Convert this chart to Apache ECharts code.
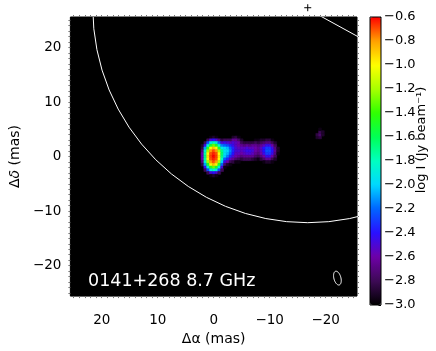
<!DOCTYPE html>
<html>
<head>
<meta charset="utf-8">
<script src="https://cdn.jsdelivr.net/npm/echarts@6/dist/echarts.min.js"></script>
<style>
  html, body { margin: 0; padding: 0; background: #fff; }
  #chart { width: 436px; height: 351px; }
</style>
</head>
<body>
<div id="chart"></div>
<script>
const FONT = 'DejaVu Sans'

// map pixels: RA offset of each column, Dec offset of each row (mas)
const raCols = [2.0, 1.5, 1.0, 0.5, 0.0, -0.5, -1.0, -1.5, -2.0, -2.5, -3.0, -3.5, -4.0, -4.5,
  -5.0, -5.5, -6.0, -6.5, -7.0, -7.5, -8.0, -8.5, -9.0, -9.5, -10.0, -10.5, -11.0, -11.5]
const decRows = [3.5, 3.0, 2.5, 2.0, 1.5, 1.0, 0.5, 0.0, -0.5, -1.0, -1.5, -2.0, -2.5, -3.0, -3.5]

// log I (Jy/beam), one row per dec, columns follow raCols; -3 (or missing) = below lowest level
const logI = [
  [-3, -3, -3, -2.95, -2.9, -2.95, -3, -3, -3, -3, -3, -2.9, -2.85, -2.95, -3, -3, -3, -3, -3, -3, -3, -3, -3, -3, -3, -3, -3, -3],
  [-3, -3, -2.8, -2.5, -2.4, -2.5, -2.7, -2.85, -2.8, -2.8, -2.8, -2.65, -2.65, -2.75, -2.9, -3, -3, -3, -3, -2.95, -2.95, -2.9, -2.9, -2.85, -2.85, -2.95, -3, -3],
  [-3, -2.8, -2.26, -1.92, -1.78, -1.92, -2.2, -2.5, -2.45, -2.5, -2.55, -2.5, -2.55, -2.6, -2.8, -2.85, -2.85, -2.85, -2.85, -2.8, -2.85, -2.8, -2.75, -2.7, -2.7, -2.8, -2.9, -3],
  [-2.9, -2.45, -1.9, -1.48, -1.29, -1.48, -1.85, -2.15, -2.2, -2.25, -2.35, -2.45, -2.55, -2.6, -2.65, -2.7, -2.65, -2.7, -2.65, -2.65, -2.7, -2.65, -2.55, -2.45, -2.45, -2.6, -2.8, -3],
  [-2.85, -2.1, -1.5, -0.99, -0.87, -0.99, -1.5, -1.9, -2.0, -2.05, -2.2, -2.35, -2.5, -2.55, -2.55, -2.55, -2.5, -2.55, -2.55, -2.6, -2.65, -2.55, -2.4, -2.3, -2.3, -2.45, -2.7, -2.9],
  [-2.7, -1.85, -1.2, -0.8, -0.7, -0.8, -1.2, -1.7, -1.95, -2.0, -2.15, -2.35, -2.5, -2.5, -2.55, -2.5, -2.45, -2.45, -2.5, -2.6, -2.65, -2.55, -2.4, -2.25, -2.25, -2.4, -2.65, -2.9],
  [-2.6, -1.75, -1.0, -0.7, -0.64, -0.7, -1.0, -1.65, -1.95, -2.05, -2.2, -2.4, -2.55, -2.55, -2.6, -2.55, -2.5, -2.5, -2.55, -2.65, -2.7, -2.6, -2.45, -2.3, -2.3, -2.45, -2.7, -2.95],
  [-2.55, -1.7, -0.95, -0.68, -0.6, -0.68, -0.95, -1.7, -2.0, -2.15, -2.35, -2.5, -2.6, -2.65, -2.7, -2.65, -2.65, -2.65, -2.65, -2.75, -2.8, -2.7, -2.6, -2.45, -2.45, -2.6, -2.8, -3],
  [-2.6, -1.75, -1.0, -0.7, -0.64, -0.7, -1.0, -1.8, -2.2, -2.35, -2.55, -2.65, -2.75, -2.8, -2.85, -2.8, -2.8, -2.8, -2.85, -2.9, -2.95, -2.85, -2.75, -2.65, -2.65, -2.8, -2.9, -3],
  [-2.7, -1.85, -1.2, -0.8, -0.7, -0.8, -1.2, -2.0, -2.45, -2.6, -2.8, -2.85, -2.95, -2.95, -3, -3, -3, -3, -3, -3, -3, -3, -2.95, -2.9, -2.9, -2.95, -3, -3],
  [-2.85, -2.1, -1.5, -0.99, -0.87, -0.99, -1.5, -2.2, -2.75, -2.9, -2.95],
  [-3, -2.45, -1.9, -1.48, -1.29, -1.48, -1.9, -2.5, -2.95],
  [-3, -2.8, -2.26, -1.92, -1.78, -1.92, -2.26, -2.8],
  [-3, -3, -2.8, -2.5, -2.4, -2.5, -2.8],
  [-3, -3, -3, -2.95, -2.9, -2.95]
]

// faint feature to the west
const spotRa = [-18.5, -18.5, -19.0, -19.0, -19.0, -19.0, -19.5, -19.5]
const spotDec = [3.5, 4.0, 3.5, 4.0, 4.5, 5.0, 4.0, 4.5]
const spotLogI = [-2.9, -2.85, -2.85, -2.75, -2.8, -2.95, -2.9, -2.9]

const tickVals = [-20, -10, 0, 10, 20]
const cbTicks = [-3.0, -2.8, -2.6, -2.4, -2.2, -2.0, -1.8, -1.6, -1.4, -1.2, -1.0, -0.8, -0.6]
const levelColors = ['#000000', '#3d0a55', '#6e00a8', '#2a10ff', '#0064ff', '#00d8ff', '#00ffc0',
  '#00ff55', '#30ff00', '#a8ff00', '#ffff00', '#ffa000', '#ff0000']

const circleCenter = [-16.8, 27.3]
const circleRadius = 38.4
const edgeLine = [[-18.5, 26.1], [-27.0, 21.3]]
const beamPos = [-22.1, -22.3]
const beamMajor = 2.6
const beamMinor = 1.25
const beamPa = -15
const sourceLabel = '0141+268 8.7 GHz'

const minorTicks = []
for (let v = -25; v <= 25; v++) minorTicks.push(v)

const cells = []
decRows.forEach((dec, i) => {
  raCols.forEach((ra, j) => {
    const v = logI[i][j]
    if (v !== undefined && v > -3) cells.push([ra, dec, v])
  })
})
spotRa.forEach((ra, k) => cells.push([ra, spotDec[k], spotLogI[k]]))

const minus = v => (v < 0 ? '\u2212' : '') + Math.abs(v)

const half = 0.25 // half a map pixel, mas
function renderCell(params, api) {
  const p0 = api.coord([api.value(0) + half, api.value(1) + half])
  const p1 = api.coord([api.value(0) - half, api.value(1) - half])
  const color = api.visual('color')
  return {
    type: 'rect',
    shape: {
      x: Math.min(p0[0], p1[0]),
      y: Math.min(p0[1], p1[1]),
      width: Math.abs(p1[0] - p0[0]),
      height: Math.abs(p1[1] - p0[1])
    },
    style: { fill: color, stroke: color, lineWidth: 0.6 }
  }
}

function renderCircle(params, api) {
  const c = api.coord([api.value(0), api.value(1)])
  const r = api.size([api.value(2), 0])[0]
  return {
    type: 'circle',
    shape: { cx: c[0], cy: c[1], r: r },
    style: { fill: null, stroke: '#fff', lineWidth: 1 }
  }
}

function renderBeam(params, api) {
  const c = api.coord([api.value(0), api.value(1)])
  const s = api.size([beamMinor, beamMajor])
  const pa = beamPa * Math.PI / 180
  const pts = []
  for (let k = 0; k < 48; k++) {
    const t = k / 48 * Math.PI * 2
    const x = s[0] / 2 * Math.cos(t)
    const y = s[1] / 2 * Math.sin(t)
    pts.push([c[0] + x * Math.cos(pa) - y * Math.sin(pa), c[1] + x * Math.sin(pa) + y * Math.cos(pa)])
  }
  return { type: 'polygon', shape: { points: pts }, style: { fill: null, stroke: '#fff', lineWidth: 1 } }
}

function renderPlus(params, api) {
  const c = api.coord([api.value(0), api.value(1)])
  return {
    type: 'group',
    children: [
      { type: 'line', shape: { x1: c[0] - 3.5, y1: c[1], x2: c[0] + 3.5, y2: c[1] }, style: { stroke: '#000', lineWidth: 1 } },
      { type: 'line', shape: { x1: c[0], y1: c[1] - 3.5, x2: c[0], y2: c[1] + 3.5 }, style: { stroke: '#000', lineWidth: 1 } }
    ]
  }
}

const boxTick = { show: true, customValues: minorTicks, length: 2, lineStyle: { color: '#777' } }
const noLine = { show: false, onZero: false }
const tickLabel = { fontSize: 13.5, color: '#000', fontFamily: FONT }

const chart = echarts.init(document.getElementById('chart'))
chart.setOption({
  animation: false,
  backgroundColor: '#fff',
  textStyle: { fontFamily: FONT },
  grid: [
    { left: 69, top: 17, width: 288, height: 288, show: true, backgroundColor: '#000', borderColor: '#000', borderWidth: 1 },
    { left: 370, top: 17, width: 11, height: 288, show: true, backgroundColor: 'transparent', borderColor: '#000', borderWidth: 1, z: 10 }
  ],
  xAxis: [
    {
      gridIndex: 0, type: 'value', min: -25.6, max: 25.6, inverse: true, position: 'bottom',
      splitLine: { show: false }, axisLine: noLine, axisTick: boxTick,
      axisLabel: Object.assign({ customValues: tickVals, formatter: minus, margin: 17 }, tickLabel),
      name: 'Δα (mas)', nameLocation: 'middle', nameGap: 33,
      nameTextStyle: { fontSize: 14, color: '#000', fontFamily: FONT }
    },
    {
      gridIndex: 0, type: 'value', min: -25.6, max: 25.6, inverse: true, position: 'top',
      splitLine: { show: false }, axisLine: noLine, axisTick: boxTick, axisLabel: { show: false }
    },
    { gridIndex: 1, type: 'value', min: 0, max: 1, show: false }
  ],
  yAxis: [
    {
      gridIndex: 0, type: 'value', min: -25.6, max: 25.6, position: 'left',
      splitLine: { show: false }, axisLine: noLine, axisTick: boxTick,
      axisLabel: Object.assign({ customValues: tickVals, formatter: minus, margin: 9 }, tickLabel),
      name: 'Δ{i|δ} (mas)', nameLocation: 'middle', nameGap: 44,
      nameTextStyle: { fontSize: 14, color: '#000', fontFamily: FONT, rich: { i: { fontSize: 14, fontStyle: 'italic', fontFamily: FONT } } }
    },
    {
      gridIndex: 0, type: 'value', min: -25.6, max: 25.6, position: 'right',
      splitLine: { show: false }, axisLine: noLine, axisTick: boxTick, axisLabel: { show: false }
    },
    {
      gridIndex: 1, type: 'value', min: -3, max: -0.6, position: 'right',
      splitLine: { show: false }, axisLine: noLine,
      axisTick: { show: true, inside: true, customValues: cbTicks, length: 2.5, lineStyle: { color: '#000' } },
      axisLabel: { customValues: cbTicks, formatter: v => (v < 0 ? '\u2212' : '') + Math.abs(v).toFixed(1), margin: 3, fontSize: 13, color: '#000', fontFamily: FONT }
    }
  ],
  visualMap: {
    type: 'continuous', min: -3, max: -0.6, dimension: 2, seriesIndex: 0,
    orient: 'vertical', left: 370, top: 17, itemWidth: 11, itemHeight: 288,
    padding: 0, calculable: false, text: ['', ''],
    inRange: { color: levelColors }
  },
  graphic: [
    {
      type: 'text', x: 88, y: 281,
      style: { text: sourceLabel, fill: '#fff', fontSize: 17.5, fontFamily: FONT, align: 'left', verticalAlign: 'middle' }
    },
    {
      type: 'text', x: 422, y: 140, rotation: Math.PI / 2,
      style: {
        text: 'log I (Jy beam\u207B\u00B9)', fill: '#000', fontSize: 13, fontFamily: FONT,
        align: 'center', verticalAlign: 'middle'
      }
    }
  ],
  series: [
    { type: 'custom', name: 'map', xAxisIndex: 0, yAxisIndex: 0, renderItem: renderCell, data: cells, clip: true, silent: true },
    { type: 'custom', name: 'ring', xAxisIndex: 0, yAxisIndex: 0, renderItem: renderCircle, data: [[circleCenter[0], circleCenter[1], circleRadius]], clip: true, silent: true },
    {
      type: 'line', xAxisIndex: 0, yAxisIndex: 0, data: edgeLine, symbol: 'none', clip: true, silent: true,
      lineStyle: { color: '#fff', width: 1 }
    },
    { type: 'custom', name: 'beam', xAxisIndex: 0, yAxisIndex: 0, renderItem: renderBeam, data: [beamPos], clip: true, silent: true },
    { type: 'custom', name: 'centre', xAxisIndex: 0, yAxisIndex: 0, renderItem: renderPlus, data: [circleCenter], clip: false, silent: true }
  ]
})
</script>
</body>
</html>
